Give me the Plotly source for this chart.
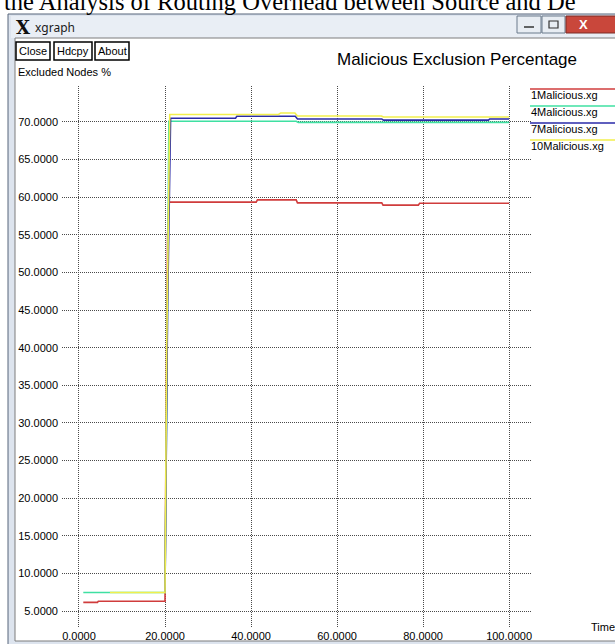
import plotly.graph_objects as go

# ---------------- data ----------------
series_names = ["1Malicious.xg", "4Malicious.xg", "7Malicious.xg", "10Malicious.xg"]
series_colors = ["#d03c3c", "#3fe0a2", "#2a2aa8", "#f2ef4c"]

x_1mal = [1.0, 4.3, 4.5, 20.0, 20.2, 20.4, 20.6, 20.9, 41.2, 41.5, 50.5, 50.8, 70.4, 70.7, 78.9, 79.2, 100.0]
y_1mal = [6.15, 6.15, 6.3, 6.3, 25.0, 44.0, 55.0, 59.35, 59.35, 59.65, 59.65, 59.25, 59.25, 58.95, 58.95, 59.2, 59.2]

x_4mal = [1.0, 20.0, 20.5, 20.9, 50.5, 51.0, 100.0]
y_4mal = [7.45, 7.45, 40.0, 70.1, 70.1, 69.95, 69.95]

x_7mal = [20.0, 20.6, 21.3, 36.4, 36.7, 50.3, 50.8, 70.4, 70.8, 95.2, 95.5, 100.0]
y_7mal = [7.45, 45.0, 70.5, 70.5, 70.75, 70.75, 70.4, 70.4, 70.25, 70.25, 70.4, 70.4]

x_10mal = [7.2, 20.0, 20.4, 21.1, 46.4, 46.9, 50.2, 50.8, 70.3, 70.8, 100.0]
y_10mal = [7.45, 7.45, 40.0, 71.0, 71.0, 71.2, 71.2, 70.8, 70.8, 70.65, 70.65]

x_ticks = [0, 20, 40, 60, 80, 100]
y_ticks = [5, 10, 15, 20, 25, 30, 35, 40, 45, 50, 55, 60, 65, 70]

chart_title = "Malicious Exclusion Percentage"
y_label = "Excluded Nodes %"
x_label = "Time"
caption = "the Analysis of Routing Overhead between Source and De"
buttons = ["Close", "Hdcpy", "About"]

# ---------------- layout geometry ----------------
W, H = 615, 644
L, R, T, B = 62, 84, 86, 16
PW = W - L - R
PH = H - T - B


def fx(x):
    return (x - L) / PW


def fy(y):
    return (H - B - y) / PH


UI = "Liberation Sans, Arial, sans-serif"

fig = go.Figure()
all_x = [x_1mal, x_4mal, x_7mal, x_10mal]
all_y = [y_1mal, y_4mal, y_7mal, y_10mal]
for name, xs, ys, col in zip(series_names, all_x, all_y, series_colors):
    fig.add_trace(go.Scatter(x=xs, y=ys, mode="lines", name=name,
                             line=dict(color=col, width=1.6),
                             showlegend=False, hoverinfo="skip"))

shapes = []
ann = []


def rect(x0, y0, x1, y1, fill, line="rgba(0,0,0,0)", lw=1, layer="below"):
    shapes.append(dict(type="rect", xref="paper", yref="paper",
                       x0=fx(x0), x1=fx(x1), y0=fy(y1), y1=fy(y0),
                       fillcolor=fill, line=dict(color=line, width=lw), layer=layer))


def hline(x0, x1, y, color, lw=1.6, layer="above"):
    shapes.append(dict(type="line", xref="paper", yref="paper",
                       x0=fx(x0), x1=fx(x1), y0=fy(y), y1=fy(y),
                       line=dict(color=color, width=lw), layer=layer))


def text(x, y, s, size=11, color="#000", family=UI, xanchor="left", yanchor="middle"):
    ann.append(dict(xref="paper", yref="paper", x=fx(x), y=fy(y), text=s,
                    showarrow=False, xanchor=xanchor, yanchor=yanchor,
                    font=dict(size=size, color=color, family=family), borderpad=0))


# caption (clipped at the top of the page in the reference)
text(3, 1, caption, 24.5, "#000", "Liberation Serif, Times New Roman, serif")

# window frame
rect(8, 14, 630, 650, "#dde4ee", "#56647a", 1)
rect(11, 16, 630, 38, "#e9eef5")
rect(15, 38, 630, 641, "#ffffff", "#7d7d7d", 1)
# title bar buttons
rect(517, 16, 541, 33, "#e8edf3", "#6b7a8c", 1)
rect(542, 16, 565, 33, "#e8edf3", "#6b7a8c", 1)
rect(566, 16, 620, 33, "#c9473b", "#7a2d26", 1)
hline(524, 534, 27, "#333", 1.5)
rect(549, 21, 558, 28, "rgba(0,0,0,0)", "#333", 1.2)
text(583, 24.5, "<b>X</b>", 13, "#ffffff", UI, "center")
text(23, 27, "<b>X</b>", 18, "#111", "DejaVu Serif", "center")
text(34, 27, "xgraph", 12, "#1a1a1a", "Noto Sans, sans-serif")

# xgraph buttons
for (bx0, bx1), lab in zip([(16, 50), (54, 92), (95, 129)], buttons):
    rect(bx0, 42, bx1, 60, "#ffffff", "#000000", 1.5)
    text((bx0 + bx1) / 2, 51, lab, 11, "#000", UI, "center")

# titles
text(457, 60, chart_title, 17, "#000", UI, "center")
text(17, 72, y_label, 11, "#000", UI)
text(590, 627, x_label, 11, "#000", UI)

# legend (xgraph style: line above label)
leg_line_y = [89, 106, 123, 140]
for name, col, ly in zip(series_names, series_colors, leg_line_y):
    hline(530, 620, ly, col, 1.6)
    text(530, ly + 6, name, 11, "#000", UI)

grid = "#4a4a4a"
fig.update_layout(
    width=W, height=H, autosize=False,
    margin=dict(l=L, r=R, t=T, b=B, pad=0, autoexpand=False),
    paper_bgcolor="#ffffff", plot_bgcolor="rgba(0,0,0,0)",
    shapes=shapes, annotations=ann,
    xaxis=dict(range=[-3.95, 105.1], tickvals=x_ticks, tickformat=".4f",
               showgrid=True, gridcolor=grid, griddash="1px,1px", gridwidth=1,
               zeroline=False, showline=False, ticks="", automargin=False,
               tickfont=dict(family=UI, size=11, color="#000"), fixedrange=True),
    yaxis=dict(range=[2.74, 74.78], tickvals=y_ticks, tickformat=".4f",
               showgrid=True, gridcolor=grid, griddash="1px,1px", gridwidth=1,
               zeroline=False, showline=False, ticks="", automargin=False,
               ticklabelstandoff=3,
               tickfont=dict(family=UI, size=11, color="#000"), fixedrange=True),
    font=dict(family=UI),
)

fig.write_html(
    "out.html",
    config={"displayModeBar": False, "staticPlot": True},
    post_script="document.body.style.margin='0';document.body.style.overflow='hidden';",
)
